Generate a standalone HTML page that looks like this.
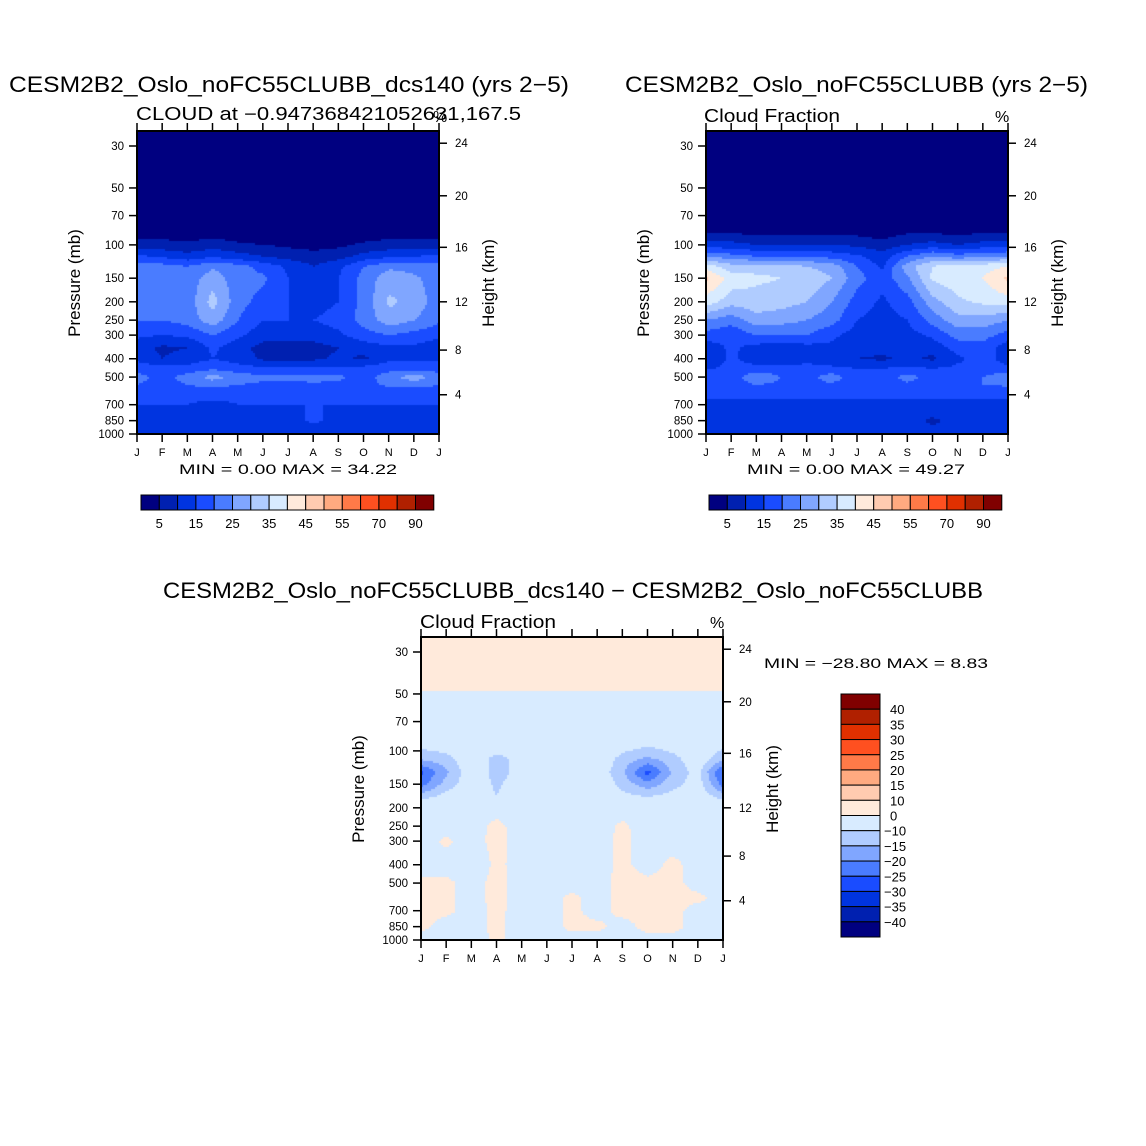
<!DOCTYPE html>
<html><head><meta charset="utf-8">
<style>
html,body{margin:0;padding:0;background:#fff;}
#wrap{position:relative;width:1146px;height:1146px;overflow:hidden;}
canvas{position:absolute;}
svg{position:absolute;left:0;top:0;}
text{font-family:"Liberation Sans",sans-serif;fill:#000;}
</style></head>
<body>
<div id="wrap">
<canvas id="c1" width="303" height="303" style="left:137px;top:131px"></canvas>
<canvas id="c2" width="302" height="303" style="left:706px;top:131px"></canvas>
<canvas id="c3" width="302" height="303" style="left:421px;top:637px"></canvas>
<svg id="s" width="1146" height="1146"></svg>
</div>
<script>
// ---- data ----
const months = ["J","F","M","A","M","J","J","A","S","O","N","D","J"];
const pTicks = [30,50,70,100,150,200,250,300,400,500,700,850,1000];
const hTicks = [4,8,12,16,20,24];
const hTickP = [620,360,200,103,55,29];
const cfLevels = [5,10,15,20,25,30,35,40,45,50,55,60,70,80,90];
const diffLevels = [-40,-35,-30,-25,-20,-15,-10,0,10,15,20,25,30,35,40];
const diffLabels = ["40","35","30","25","20","15","10","0","-10","-15","-20","-25","-30","-35","-40"];
const colors = ["#000080","#0020b0","#0034e0","#1a4cff","#4a7cff","#80a6ff","#b0ccff","#d8ebff","#ffeadb","#ffcbb0","#ffaa80","#ff7a48","#ff5020","#e03000","#b02000","#800000"];

const rows1 = [25,70,90,100,115,130,150,200,250,300,350,400,450,500,550,600,700,850,1000];
const cf1 = [
[1,1,1,1,1,1,1,1,1,1,1,1,1],
[2,2,2,2,2,2,2,2,2,2,2,2,2],
[4,4,3,4,3,2,2,2,2,3,4,4,4],
[7,7,6,8,6,5,4,3,4,6,7,7,7],
[16,14,12,14,12,10,8,7,8,12,14,15,16],
[22,22,20,24,22,18,14,10,14,20,24,23,22],
[22,22,22,28,22,21,15,10,15,22,28,26,22],
[21,21,22,32,22,18,15,13,15,22,31,28,22],
[20,20,22,28,20,15,15,15,17,22,28,25,21],
[16,15,16,20,16,12,12,12,14,18,20,18,16],
[12,9,10,16,12,8,8,8,10,12,14,14,12],
[14,10,12,15,13,9,9,9,11,9,14,14,14],
[18,17,17,19,17,16,16,16,16,17,18,17,18],
[22,18,22,27,23,21,21,22,21,18,23,28,22],
[20,18,20,22,20,19,19,19,19,18,21,22,20],
[17,16,16,17,16,16,16,16,16,16,17,17,17],
[15,15,15,14,15,15,15,15,15,15,15,15,15],
[13,13,13,13,13,13,13,16,13,13,13,13,13],
[12,12,12,12,12,12,12,12,12,12,12,12,12]];

const rows2 = [25,70,85,100,115,130,150,200,250,300,350,400,450,500,550,600,700,850,1000];
const cf2 = [
[1,1,1,1,1,1,1,1,1,1,1,1,1],
[2,2,2,2,2,2,2,2,2,2,2,2,2],
[4,4,3,3,3,3,3,2,4,4,3,4,4],
[12,12,10,10,10,10,9,7,10,12,10,12,12],
[25,22,20,20,20,18,16,12,20,25,22,24,25],
[38,32,33,33,30,28,20,14,28,35,38,38,40],
[46,38,36,35,34,30,22,17,24,36,38,40,46],
[38,32,33,32,30,25,18,14,18,28,34,36,38],
[25,22,28,27,25,22,15,13,15,22,28,28,25],
[18,16,20,20,20,16,13,12,13,16,22,22,18],
[12,16,13,12,13,14,12,12,12,12,17,18,12],
[10,16,12,11,13,12,10,9,11,9,14,17,13],
[14,17,17,17,17,16,15,15,16,15,16,17,16],
[20,17,24,20,18,23,16,17,22,18,16,20,24],
[18,17,20,19,18,19,17,17,19,17,17,20,21],
[16,16,16,16,16,16,16,16,16,16,16,16,16],
[14,14,14,14,14,14,14,14,14,14,14,14,14],
[12,12,12,12,12,12,12,12,12,9,12,12,12],
[12,12,12,12,12,12,12,12,12,12,12,12,12]];

const rows3 = [25,48,52,90,110,130,150,175,200,250,300,400,500,600,700,850,1000];
const diff = [
[1,1,1,1,1,1,1,1,1,1,1,1,1],
[1,1,1,1,1,1,1,1,1,1,1,1,1],
[-5,-5,-5,-5,-5,-5,-5,-5,-5,-5,-5,-5,-5],
[-7,-6,-5,-5,-5,-5,-5,-5,-6,-8,-6,-5,-7],
[-14,-12,-6,-12,-8,-5,-5,-5,-12,-16,-12,-6,-14],
[-26,-16,-6,-12,-8,-5,-5,-6,-14,-27,-14,-8,-26],
[-22,-13,-6,-11,-7,-5,-5,-5,-12,-18,-12,-7,-22],
[-12,-8,-5,-10,-6,-5,-5,-5,-8,-10,-8,-6,-12],
[-5,-5,-5,-5,-5,-5,-5,-5,-5,-5,-5,-5,-5],
[-5,-5,-5,3,-5,-5,-5,-5,2,-5,-5,-5,-5],
[-5,2,-5,4,-5,-5,-5,-5,3,-5,-5,-5,-5],
[-5,-5,-10,3,-5,-5,-5,-5,3,-5,3,-5,-5],
[3,3,-5,4,-5,-5,-5,-5,4,3,4,-5,-5],
[3,3,-5,4,-5,-5,3,-5,4,4,4,3,-5],
[3,3,-5,3,-5,-5,3,-5,4,4,4,-5,-5],
[3,-5,-5,3,-5,-5,3,3,-5,4,4,-5,-5],
[-5,-5,-5,2,-5,-5,-5,-5,-5,-5,-5,-5,-5]];

// ---- axis functions ----
const PX_PER_LN = 288/Math.log(1000/30);
function yOfP(top,p){ return top + 303 - Math.log(1000/p)*PX_PER_LN; }
function pOfY(localY){ return 1000/Math.exp((303-localY)/PX_PER_LN); }
function xOfM(left,i){ return left + i*302/12; }
function level(levels,v){ let k=0; while(k<levels.length && v>=levels[k]) k++; return k; }
function sample(rows,grid,p,m){
  let r=0; while(r<rows.length-2 && p>rows[r+1]) r++;
  const lp=Math.log(p), a=Math.log(rows[r]), b=Math.log(rows[r+1]);
  let t=(lp-a)/(b-a); t=Math.max(0,Math.min(1,t));
  let c=Math.min(11,Math.floor(m)); let u=m-c;
  const v00=grid[r][c],v01=grid[r][c+1],v10=grid[r+1][c],v11=grid[r+1][c+1];
  return (v00*(1-u)+v01*u)*(1-t)+(v10*(1-u)+v11*u)*t;
}
function draw(id,rows,grid,levels){
  const cv=document.getElementById(id), ctx=cv.getContext('2d');
  const W=cv.width,H=cv.height,step=2;
  for(let y=0;y<H;y+=step){
    const p=Math.max(25,pOfY(y+1));
    for(let x=0;x<W;x+=step){
      const m=(x+1)/W*12;
      ctx.fillStyle=colors[level(levels,sample(rows,grid,p,m))];
      ctx.fillRect(x,y,step,step);
    }
  }
}
draw('c1',rows1,cf1,cfLevels);
draw('c2',rows2,cf2,cfLevels);
draw('c3',rows3,diff,diffLevels);

// ---- svg overlay ----
const NS="http://www.w3.org/2000/svg", S=document.getElementById('s');
function el(tag,attrs,txt){const e=document.createElementNS(NS,tag);for(const k in attrs)e.setAttribute(k,attrs[k]);if(txt!==undefined)e.textContent=txt;S.appendChild(e);return e;}
function txt(x,y,s,size,anchor,name,len){
  const a={x:x,y:y,'font-size':size,'text-anchor':anchor||'start'};
  if(len){a.textLength=len;a.lengthAdjust='spacingAndGlyphs';}
  const e=el('text',a,s);
  
  
  return e;
}
function axes(left,top,prefix){
  const fr=el('rect',{x:left,y:top,width:302,height:303,fill:'none',stroke:'#000','stroke-width':2});
  
  
  for(let i=0;i<months.length;i++){
    const x=xOfM(left,i);
    el('line',{x1:x,y1:top+303,x2:x,y2:top+311,stroke:'#000','stroke-width':1.5});
    el('line',{x1:x,y1:top,x2:x,y2:top-8,stroke:'#000','stroke-width':1.5});
    txt(x,top+325,months[i],11,'middle',prefix+'-month-label');
  }
  for(const p of pTicks){
    const y=yOfP(top,p);
    el('line',{x1:left-8,y1:y,x2:left,y2:y,stroke:'#000','stroke-width':1.5});
    txt(left-13,y+4,String(p),11.5,'end',prefix+'-pressure-tick');
  }
  for(let i=0;i<hTicks.length;i++){
    const y=yOfP(top,hTickP[i]);
    el('line',{x1:left+302,y1:y,x2:left+310,y2:y,stroke:'#000','stroke-width':1.5});
    txt(left+318,y+4,String(hTicks[i]),11.5,'start',prefix+'-height-tick');
  }
  const yl=txt(0,0,'Pressure (mb)',17,'middle',prefix+'-y-axis-title');
  yl.setAttribute('transform','translate('+(left-57)+','+(top+152)+') rotate(-90)');
  const yr=txt(0,0,'Height (km)',17,'middle',prefix+'-height-axis-title');
  yr.setAttribute('transform','translate('+(left+357)+','+(top+152)+') rotate(-90)');
}
axes(137,131,'plot1'); axes(706,131,'plot2'); axes(421,637,'plot3');

txt(9,92,'CESM2B2_Oslo_noFC55CLUBB_dcs140 (yrs 2\u22125)',22,'start','plot1-title',560);
txt(136,120,'CLOUD at \u22120.947368421052631,167.5',18,'start','plot1-subtitle',385);
txt(433,122,'%',16,'start','plot1-units');
txt(625,92,'CESM2B2_Oslo_noFC55CLUBB (yrs 2\u22125)',22,'start','plot2-title',463);
txt(704,122,'Cloud Fraction',18,'start','plot2-subtitle',136);
txt(995,122,'%',16,'start','plot2-units');
txt(163,598,'CESM2B2_Oslo_noFC55CLUBB_dcs140 \u2212 CESM2B2_Oslo_noFC55CLUBB',22,'start','diff-title',820);
txt(420,628,'Cloud Fraction',18,'start','diff-subtitle',136);
txt(710,628,'%',16,'start','diff-units');
txt(179,474,'MIN =    0.00 MAX =   34.22',14,'start','plot1-minmax',218);
txt(747,474,'MIN =    0.00 MAX =   49.27',14,'start','plot2-minmax',218);
txt(764,668,'MIN = \u221228.80 MAX =    8.83',14,'start','diff-minmax',224);

function hbar(left,prefix){
  const w=18.3, top=495;
  for(let i=0;i<colors.length;i++){
    const r=el('rect',{x:left+i*w,y:top,width:w,height:15,fill:colors[i],stroke:'#000','stroke-width':1});
    
    
  }
  for(let k=0;k<cfLevels.length;k+=2){
    txt(left+(k+1)*w,528,String(cfLevels[k]),13,'middle',prefix+'-colorbar-label');
  }
}
hbar(141,'plot1'); hbar(709,'plot2');
(function(){
  const left=841, top=694, h=243/16;
  for(let i=0;i<colors.length;i++){
    const r=el('rect',{x:left,y:top+i*h,width:39,height:h,fill:colors[15-i],stroke:'#000','stroke-width':1});
    
    
  }
  for(let i=0;i<diffLabels.length;i++){
    const lab=diffLabels[i].replace('-','\u2212');
    txt(diffLabels[i][0]==='-'?884:890,top+(i+1)*h+5,lab,13,'start','diff-colorbar-label');
  }
})();
</script>
</body></html>
